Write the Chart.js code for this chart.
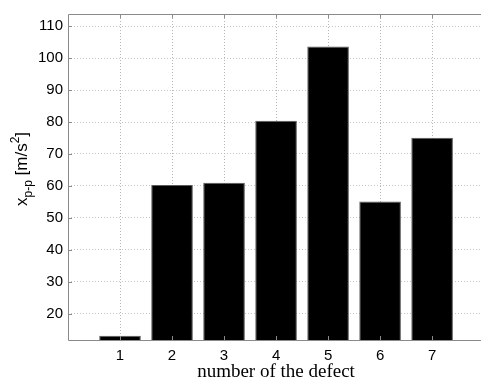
<!DOCTYPE html>
<html>
<head>
<meta charset="utf-8">
<script src="https://cdn.jsdelivr.net/npm/chart.js@4"></script>
<style>
  html, body { margin: 0; padding: 0; background: #fff; overflow: hidden; }
  canvas { display: block; }
</style>
</head>
<body>
<canvas id="defectChart" width="481" height="382"></canvas>
<script>
// defect numbers and peak-to-peak values
const defectNumbers = [1, 2, 3, 4, 5, 6, 7];
const peakValues = [13.1, 60.3, 61.0, 80.4, 103.6, 55.1, 75.1];
const xMin = 0;
const xMax = 7.94;   // box continues past the right edge of the picture
const yMin = 11.8;
const yMax = 113.8;
const yStep = 10;

const barData = defectNumbers.map((n, i) => ({ x: n, y: peakValues[i] }));

// vertical dotted grid through the bar centres
const xGridPlugin = {
    id: 'xGrid',
    beforeDatasetsDraw(chart) {
        const ctx = chart.ctx;
        const a = chart.chartArea;
        const xs = chart.scales.x;
        ctx.save();
        ctx.strokeStyle = '#b4b4b4';
        ctx.lineWidth = 1;
        ctx.setLineDash([1, 2]);
        defectNumbers.forEach(n => {
            const px = Math.round(xs.getPixelForValue(n)) + 0.5;
            ctx.beginPath();
            ctx.moveTo(px, a.top + 1);
            ctx.lineTo(px, a.bottom);
            ctx.stroke();
        });
        ctx.restore();
    }
};

// frame + axis titles (subscript / superscript need manual drawing)
const framePlugin = {
    id: 'frame',
    afterDraw(chart) {
        const ctx = chart.ctx;
        const a = chart.chartArea;
        ctx.save();
        ctx.strokeStyle = '#8a8a8a';
        ctx.lineWidth = 1;
        ctx.beginPath();
        ctx.moveTo(chart.width, a.top + 0.5);
        ctx.lineTo(a.left + 0.5, a.top + 0.5);
        ctx.lineTo(a.left + 0.5, a.bottom + 0.5);
        ctx.lineTo(chart.width, a.bottom + 0.5);
        ctx.stroke();

        // small inward tick marks
        const xs = chart.scales.x, ys = chart.scales.y;
        ctx.beginPath();
        defectNumbers.forEach(n => {
            const px = Math.round(xs.getPixelForValue(n)) + 0.5;
            ctx.moveTo(px, a.bottom); ctx.lineTo(px, a.bottom - 4);
            ctx.moveTo(px, a.top); ctx.lineTo(px, a.top + 4);
        });
        ys.ticks.forEach(t => {
            const py = Math.round(ys.getPixelForValue(t.value)) + 0.5;
            ctx.moveTo(a.left, py); ctx.lineTo(a.left + 4, py);
        });
        ctx.stroke();

        // x title
        ctx.fillStyle = '#000';
        ctx.font = '19px "Liberation Serif", "Times New Roman", serif';
        ctx.textAlign = 'center';
        ctx.textBaseline = 'alphabetic';
        ctx.fillText('number of the defect', 276, 377);

        // y title: x_{p-p} [m/s^2]
        ctx.translate(27, (a.top + a.bottom) / 2 - 8);
        ctx.rotate(-Math.PI / 2);
        const big = '17px "Liberation Sans", Arial, sans-serif';
        const small = '12px "Liberation Sans", Arial, sans-serif';
        const parts = [
            { t: 'x', f: big, dy: 0 },
            { t: 'p-p', f: small, dy: 5 },
            { t: ' [m/s', f: big, dy: 0 },
            { t: '2', f: small, dy: -8 },
            { t: ']', f: big, dy: 0 }
        ];
        let total = 0;
        parts.forEach(p => { ctx.font = p.f; total += ctx.measureText(p.t).width; });
        let x = -total / 2;
        ctx.textAlign = 'left';
        parts.forEach(p => {
            ctx.font = p.f;
            ctx.fillText(p.t, x, p.dy);
            x += ctx.measureText(p.t).width;
        });
        ctx.restore();
    }
};

const ctx = document.getElementById('defectChart').getContext('2d');
new Chart(ctx, {
    type: 'bar',
    data: {
        datasets: [{
            data: barData,
            backgroundColor: '#000000',
            borderColor: '#5a5a5a',
            borderWidth: 1,
            borderSkipped: 'bottom',
            barPercentage: 0.8,
            categoryPercentage: 1.0
        }]
    },
    options: {
        responsive: false,
        animation: false,
        layout: { padding: { top: 12, right: 0, left: 0, bottom: 0 } },
        plugins: {
            legend: { display: false },
            tooltip: { enabled: false }
        },
        scales: {
            x: {
                type: 'linear',
                min: xMin,
                max: xMax,
                offset: false,
                afterFit: function (scale) { scale.height = 42; },
                grid: { display: false, drawTicks: false },
                border: { display: false },
                ticks: {
                    stepSize: 1,
                    includeBounds: false,
                    color: '#000',
                    padding: 7,
                    maxRotation: 0,
                    autoSkip: false,
                    font: { family: '"Liberation Sans", Arial, sans-serif', size: 15 },
                    callback: function (v) { return v === 0 ? '' : String(v); }
                }
            },
            y: {
                min: yMin,
                max: yMax,
                afterFit: function (scale) { scale.width = 68; },
                grid: { drawTicks: false, color: '#c4c4c4' },
                border: { display: false, dash: [1, 2] },
                ticks: {
                    stepSize: yStep,
                    includeBounds: false,
                    color: '#000',
                    padding: 5,
                    font: { family: '"Liberation Sans", Arial, sans-serif', size: 15 }
                }
            }
        }
    },
    plugins: [xGridPlugin, framePlugin]
});
</script>
</body>
</html>
